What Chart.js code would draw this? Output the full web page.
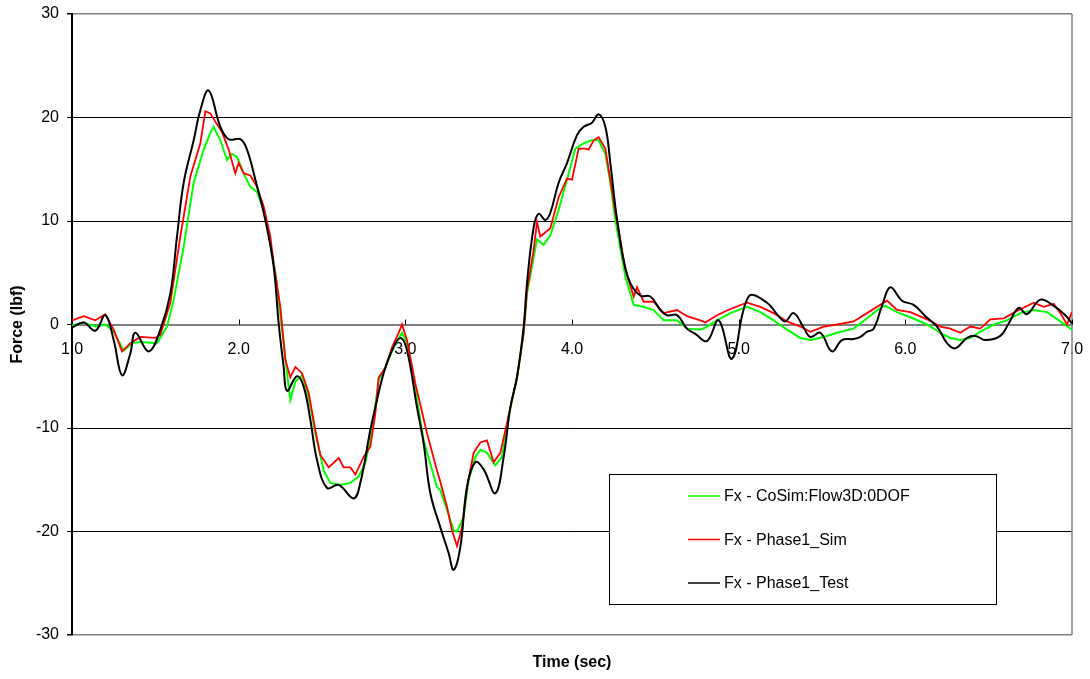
<!DOCTYPE html>
<html>
<head>
<meta charset="utf-8">
<script src="https://cdn.jsdelivr.net/npm/chart.js@4.4.1/dist/chart.umd.min.js"></script>
<style>
    body { margin: 0; background: #fff; }
    #wrap { width: 1090px; height: 679px; }
</style>
</head>
<body>
<div id="wrap"><canvas id="forceChart"></canvas></div>
<script>
// -------------------------------------------------------------------------- Data (time in sec, force in lbf)

const xTicks = [1, 2, 3, 4, 5, 6, 7]
const yTicks = [-30, -20, -10, 0, 10, 20, 30]

const labels = [
    'Fx - CoSim:Flow3D:0DOF',
    'Fx - Phase1_Sim',
    'Fx - Phase1_Test'
]

const cosimTime = [1.00, 1.07, 1.14, 1.20, 1.25, 1.31, 1.36, 1.41, 1.51, 1.57, 1.61, 1.67, 1.73, 1.79, 1.83, 1.85, 1.89, 1.93, 1.96, 1.99,
    2.03, 2.07, 2.11, 2.15, 2.18, 2.22, 2.27, 2.30, 2.31, 2.34, 2.38, 2.42, 2.46, 2.51, 2.55, 2.61, 2.67, 2.72, 2.76, 2.80,
    2.84, 2.88, 2.93, 2.98, 3.01, 3.06, 3.11, 3.19, 3.21, 3.25, 3.29, 3.31, 3.35, 3.38, 3.42, 3.45, 3.49, 3.54, 3.58, 3.62,
    3.67, 3.71, 3.73, 3.77, 3.79, 3.83, 3.87, 3.92, 3.97, 4.02, 4.07, 4.12, 4.16, 4.20, 4.23, 4.26, 4.32, 4.35, 4.37, 4.43,
    4.49, 4.55, 4.63, 4.69, 4.77, 4.80, 4.87, 4.95, 5.05, 5.13, 5.21, 5.29, 5.37, 5.43, 5.51, 5.59, 5.69, 5.77, 5.85, 5.88,
    5.95, 6.03, 6.13, 6.21, 6.27, 6.33, 6.39, 6.45, 6.53, 6.61, 6.69, 6.77, 6.85, 6.93, 7.00]
const cosimForce = [-0.1, 0.2, -0.2, 0.0, -0.7, -2.5, -1.8, -1.7, -1.8, -0.2, 2.4, 7.5, 13.7, 16.9, 18.5, 19.1, 17.8, 15.9, 16.5, 16.2,
    14.6, 13.3, 12.8, 11.1, 8.8, 5.0, -1.8, -6.0, -7.3, -5.5, -4.9, -7.0, -10.5, -14.1, -15.3, -15.5, -15.3, -14.7, -13.4, -10.2,
    -5.4, -4.1, -2.2, -0.8, -1.8, -6.3, -11.2, -15.7, -16.0, -17.9, -19.9, -20.0, -18.6, -15.0, -12.8, -12.1, -12.4, -13.6, -12.8, -8.9,
    -5.1, -0.8, 3.0, 6.5, 8.2, 7.7, 8.6, 11.1, 14.0, 17.0, 17.5, 17.8, 17.8, 16.5, 13.7, 10.1, 4.6, 3.0, 1.9, 1.7,
    1.4, 0.4, 0.4, -0.4, -0.5, -0.3, 0.4, 1.1, 1.7, 1.2, 0.4, -0.5, -1.3, -1.5, -1.2, -0.8, -0.4, 0.6, 1.6, 1.8,
    1.2, 0.7, 0.0, -0.8, -1.3, -1.5, -1.3, -0.7, 0.0, 0.4, 1.1, 1.4, 1.2, 0.3, -0.5]

const simTime = [1.00, 1.07, 1.14, 1.20, 1.25, 1.30, 1.35, 1.41, 1.50, 1.53, 1.59, 1.65, 1.71, 1.77, 1.80, 1.83, 1.86, 1.90, 1.94, 1.98,
    2.00, 2.03, 2.07, 2.11, 2.15, 2.19, 2.21, 2.25, 2.28, 2.31, 2.34, 2.38, 2.42, 2.46, 2.49, 2.54, 2.60, 2.63, 2.67, 2.70,
    2.75, 2.79, 2.82, 2.84, 2.88, 2.92, 2.96, 2.98, 3.01, 3.06, 3.13, 3.19, 3.21, 3.25, 3.28, 3.31, 3.34, 3.37, 3.41, 3.45,
    3.49, 3.53, 3.57, 3.61, 3.67, 3.71, 3.73, 3.77, 3.79, 3.81, 3.87, 3.92, 3.97, 4.00, 4.04, 4.08, 4.10, 4.13, 4.16, 4.20,
    4.23, 4.26, 4.28, 4.32, 4.37, 4.39, 4.43, 4.49, 4.55, 4.63, 4.69, 4.77, 4.80, 4.87, 4.95, 5.05, 5.13, 5.21, 5.29, 5.37,
    5.43, 5.51, 5.59, 5.69, 5.77, 5.85, 5.89, 5.95, 6.03, 6.13, 6.21, 6.27, 6.33, 6.39, 6.45, 6.51, 6.59, 6.67, 6.77, 6.83,
    6.89, 6.93, 6.97, 7.00]
const simForce = [0.4, 0.8, 0.4, 1.0, -0.5, -2.6, -1.8, -1.2, -1.3, -1.0, 2.1, 8.5, 14.3, 17.5, 20.6, 20.4, 19.6, 18.6, 16.9, 14.6,
    15.6, 14.6, 14.4, 13.3, 11.4, 8.5, 5.9, 1.7, -3.4, -5.1, -4.1, -4.7, -6.6, -10.2, -12.6, -13.8, -12.9, -13.8, -13.8, -14.5,
    -12.8, -11.8, -8.6, -5.1, -4.2, -2.2, -0.8, 0.0, -1.5, -5.7, -10.5, -14.1, -15.2, -17.6, -19.9, -21.4, -19.6, -15.7, -12.4, -11.4,
    -11.2, -13.3, -12.4, -9.5, -5.1, -0.8, 3.3, 7.2, 9.9, 8.5, 9.3, 12.3, 14.1, 14.0, 17.0, 17.0, 16.9, 17.8, 18.1, 17.0,
    14.0, 10.8, 9.1, 5.3, 2.7, 3.6, 2.2, 2.2, 1.1, 1.4, 0.8, 0.4, 0.2, 0.9, 1.5, 2.1, 1.7, 1.1, 0.3, -0.2,
    -0.7, -0.2, 0.0, 0.3, 1.1, 1.9, 2.3, 1.4, 1.2, 0.5, -0.2, -0.4, -0.8, -0.2, -0.4, 0.5, 0.6, 1.3, 2.1, 1.7,
    2.0, 1.1, 0.0, 1.2]

const testTime = [1.00, 1.07, 1.14, 1.20, 1.25, 1.30, 1.35, 1.38, 1.46, 1.53, 1.59, 1.63, 1.67, 1.73, 1.77, 1.82, 1.89, 1.94, 2.01, 2.05,
    2.10, 2.16, 2.21, 2.24, 2.27, 2.29, 2.35, 2.39, 2.43, 2.47, 2.53, 2.60, 2.69, 2.73, 2.79, 2.83, 2.87, 2.92, 2.97, 3.01,
    3.07, 3.11, 3.15, 3.21, 3.26, 3.29, 3.33, 3.37, 3.42, 3.47, 3.54, 3.59, 3.63, 3.67, 3.71, 3.73, 3.77, 3.80, 3.84, 3.87,
    3.92, 3.97, 4.03, 4.07, 4.12, 4.16, 4.20, 4.23, 4.26, 4.28, 4.31, 4.35, 4.41, 4.47, 4.53, 4.57, 4.63, 4.69, 4.74, 4.81,
    4.88, 4.96, 5.06, 5.17, 5.24, 5.28, 5.33, 5.39, 5.43, 5.49, 5.56, 5.62, 5.69, 5.73, 5.77, 5.81, 5.86, 5.91, 5.98, 6.05,
    6.12, 6.19, 6.25, 6.30, 6.37, 6.42, 6.48, 6.57, 6.62, 6.68, 6.73, 6.81, 6.89, 6.96, 7.00]
const testForce = [-0.3, 0.2, -0.6, 0.9, -1.5, -4.9, -2.8, -0.8, -2.6, -0.5, 3.0, 8.5, 13.7, 17.8, 20.7, 22.6, 19.1, 17.9, 17.9, 16.9,
    14.0, 10.1, 5.6, 0.1, -4.1, -6.4, -5.0, -6.0, -9.2, -13.1, -15.8, -15.5, -16.8, -15.3, -10.2, -7.3, -4.7, -2.5, -1.3, -2.5,
    -8.0, -11.5, -16.3, -19.6, -22.1, -23.7, -21.5, -15.7, -13.3, -14.0, -16.3, -12.8, -8.0, -5.1, -0.2, 4.0, 9.4, 10.7, 10.1, 10.8,
    13.7, 15.6, 18.3, 19.1, 19.5, 20.3, 19.1, 15.6, 11.4, 9.1, 6.2, 4.0, 2.8, 2.7, 1.4, 0.9, 0.9, -0.4, -0.9, -1.6,
    0.4, -3.3, 2.7, 2.1, 0.8, 0.3, 1.1, -0.3, -1.2, -0.8, -2.6, -1.5, -1.4, -1.2, -0.7, -0.4, 1.8, 3.6, 2.3, 1.9,
    0.8, -0.2, -1.8, -2.3, -1.3, -1.1, -1.5, -1.1, 0.1, 1.6, 1.0, 2.4, 1.8, 0.9, 0.1]

const colors = ['#00ff00', '#ff0000', '#000000']

Chart.defaults.font.family = 'Arial, "Liberation Sans", sans-serif'
Chart.defaults.font.size = 16
Chart.defaults.color = '#000'

function points(times, values) {
    return times.map((t, i) => ({ x: t, y: values[i] }))
}

// no label overflow padding, layout.padding alone places the plot area
function noOverflow(scale) {
    scale.paddingTop = 0
    scale.paddingBottom = 0
    scale.paddingLeft = 0
    scale.paddingRight = 0
}

// -------------------------------------------------------------------------- Extras: titles, frame, legend box

const extras = {
    id: 'extras',
    beforeDatasetsDraw(chart) {
        const { ctx, chartArea, scales } = chart
        const zeroY = scales.y.getPixelForValue(0)
        ctx.save()
        // right border
        ctx.strokeStyle = '#808080'
        ctx.lineWidth = 1.5
        ctx.beginPath()
        ctx.moveTo(chartArea.right, chartArea.top)
        ctx.lineTo(chartArea.right, chartArea.bottom)
        ctx.stroke()
        // small x tick marks pointing up from the zero line
        ctx.strokeStyle = '#000'
        ctx.lineWidth = 1
        xTicks.forEach(v => {
            const px = Math.round(scales.x.getPixelForValue(v)) + 0.5
            ctx.beginPath()
            ctx.moveTo(px, zeroY)
            ctx.lineTo(px, zeroY - 5)
            ctx.stroke()
        })
        ctx.restore()
    },
    afterDraw(chart) {
        const { ctx, chartArea } = chart
        ctx.save()
        ctx.fillStyle = '#000'
        ctx.font = 'bold 16px Arial, "Liberation Sans", sans-serif'
        ctx.textAlign = 'center'
        ctx.textBaseline = 'middle'
        ctx.fillText('Time (sec)', (chartArea.left + chartArea.right) / 2, 663)
        ctx.translate(18, (chartArea.top + chartArea.bottom) / 2)
        ctx.rotate(-Math.PI / 2)
        ctx.fillText('Force (lbf)', 0, 0)
        ctx.restore()

        // legend box
        const box = { x: 609.5, y: 474.5, w: 387, h: 130 }
        ctx.save()
        ctx.fillStyle = '#fff'
        ctx.fillRect(box.x, box.y, box.w, box.h)
        ctx.strokeStyle = '#000'
        ctx.lineWidth = 1
        ctx.strokeRect(box.x, box.y, box.w, box.h)
        ctx.font = '16px Arial, "Liberation Sans", sans-serif'
        ctx.textBaseline = 'middle'
        ctx.textAlign = 'left'
        const rows = [496, 539.5, 583]
        labels.forEach((label, i) => {
            ctx.strokeStyle = colors[i]
            ctx.lineWidth = 1.5
            ctx.beginPath()
            ctx.moveTo(688, rows[i])
            ctx.lineTo(720, rows[i])
            ctx.stroke()
            ctx.fillStyle = '#000'
            ctx.fillText(label, 724, rows[i] + 1)
        })
        ctx.restore()
    }
}

// -------------------------------------------------------------------------- Chart config

const dataForce = {
    datasets: [{
        label: labels[0],
        data: points(cosimTime, cosimForce),
        borderColor: colors[0],
        borderWidth: 2,
        tension: 0,
        order: 2
    }, {
        label: labels[1],
        data: points(simTime, simForce),
        borderColor: colors[1],
        borderWidth: 1.8,
        tension: 0,
        order: 1
    }, {
        label: labels[2],
        data: points(testTime, testForce),
        borderColor: colors[2],
        borderWidth: 2,
        tension: 0.4,
        order: 0
    }]
}

const configForce = {
    type: 'line',
    data: dataForce,
    options: {
        responsive: true,
        maintainAspectRatio: false,
        animation: false,
        layout: {
            padding: { left: 0, top: 14, right: 18, bottom: 44 }
        },
        elements: {
            point: { radius: 0 }
        },
        plugins: {
            legend: { display: false },
            tooltip: { enabled: false }
        },
        scales: {
            x: {
                type: 'linear',
                position: { y: 0 },
                min: 1,
                max: 7,
                afterBuildTicks: scale => {
                    scale.ticks = xTicks.map(v => ({ value: v }))
                },
                afterFit: noOverflow,
                ticks: {
                    padding: 15,
                    maxRotation: 0,
                    callback: v => v.toFixed(1)
                },
                grid: {
                    drawOnChartArea: false,
                    drawTicks: false
                },
                border: {
                    color: '#808080',
                    width: 2
                }
            },
            y: {
                type: 'linear',
                min: -30,
                max: 30,
                afterFit: scale => {
                    scale.width = 72
                    noOverflow(scale)
                },
                afterBuildTicks: scale => {
                    scale.ticks = yTicks.map(v => ({ value: v }))
                },
                ticks: {
                    padding: 8
                },
                grid: {
                    color: c => (c.tick && [30, -30, 0].includes(c.tick.value)) ? '#808080' : '#000',
                    lineWidth: c => (c.tick && [30, -30].includes(c.tick.value)) ? 1.5 : 1,
                    tickColor: '#000',
                    tickLength: 5
                },
                border: {
                    color: '#000',
                    width: 2
                }
            }
        }
    },
    plugins: [extras]
}

// -------------------------------------------------------------------------- Render

let forceChart = new Chart(
    document.getElementById('forceChart'),
    configForce
)
</script>
</body>
</html>
